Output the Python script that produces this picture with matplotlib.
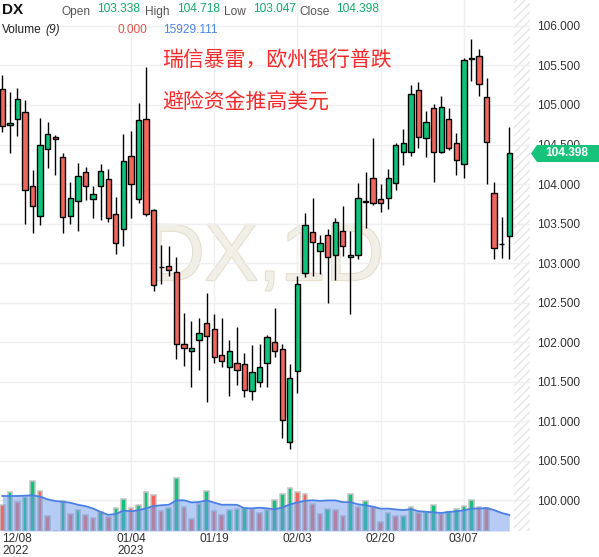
import numpy as np
import pandas as pd
import matplotlib.pyplot as plt
from matplotlib.patches import Polygon
import matplotlib.patheffects as pe

plt.rcParams['font.family'] = ['Liberation Sans', 'DejaVu Sans']

# OHLC diario do DX (12/08/2022 - 15/03/2023)
opens = [105.20, 104.75, 104.82, 104.91, 103.97, 103.59, 104.44, 104.60, 104.34, 103.60,
         103.78, 104.15, 103.81, 103.98, 104.06, 103.62, 103.43, 104.35, 103.81, 104.82,
         103.67, 102.95, 102.96, 102.88, 101.97, 101.88, 102.02, 102.24, 102.17, 101.83,
         101.69, 101.74, 101.72, 101.38, 101.50, 101.73, 102.00, 101.91, 100.73, 101.63,
         102.87, 103.39, 103.15, 103.36, 103.10, 103.41, 103.07, 103.10, 103.79, 104.07,
         103.81, 103.82, 104.01, 104.40, 104.41, 105.19, 104.58, 104.96, 104.41, 104.82,
         104.52, 104.25, 105.58, 105.62, 105.10, 103.89, 103.24, 103.338]
highs = [105.38, 105.17, 105.21, 105.06, 104.18, 104.83, 104.79, 104.62, 104.39, 104.03,
         104.27, 104.21, 103.97, 104.25, 104.19, 103.84, 104.63, 104.67, 105.03, 105.48,
         103.68, 103.23, 103.21, 103.07, 102.37, 102.27, 102.30, 102.62, 102.35, 102.30,
         102.02, 102.19, 101.86, 101.96, 101.97, 102.09, 102.43, 101.98, 101.72, 102.83,
         103.63, 103.82, 103.36, 103.43, 103.57, 103.72, 103.41, 104.01, 104.15, 104.58,
         104.00, 104.19, 104.52, 104.70, 105.25, 105.29, 104.92, 105.01, 105.12, 104.96,
         104.64, 105.60, 105.84, 105.71, 105.34, 104.02, 103.58, 104.718]
lows = [104.66, 104.39, 104.61, 103.50, 103.38, 103.48, 104.20, 104.12, 103.38, 103.49,
        103.41, 103.80, 103.57, 103.54, 103.52, 103.12, 103.22, 103.57, 103.76, 103.59,
        102.65, 102.74, 102.84, 101.79, 101.70, 101.43, 101.65, 101.24, 101.74, 101.68,
        101.32, 101.46, 101.31, 101.27, 101.43, 101.43, 101.81, 100.78, 100.65, 101.36,
        102.82, 102.84, 102.86, 102.50, 102.78, 103.09, 102.36, 103.05, 103.44, 103.74,
        103.65, 103.68, 103.92, 104.24, 104.35, 104.46, 104.34, 104.02, 104.39, 104.43,
        104.11, 104.07, 105.31, 105.11, 104.00, 103.05, 103.06, 103.047]
closes = [104.73, 104.77, 105.07, 103.92, 103.72, 104.50, 104.63, 104.57, 103.58, 103.82,
          104.10, 103.98, 103.87, 104.16, 103.57, 103.25, 104.29, 104.00, 104.81, 103.62,
          102.72, 102.95, 102.91, 101.97, 101.92, 101.92, 102.12, 102.08, 101.81, 101.76,
          101.89, 101.65, 101.39, 101.62, 101.69, 102.06, 101.89, 101.01, 101.55, 102.73,
          103.48, 103.27, 103.25, 103.08, 103.52, 103.22, 103.10, 103.82, 103.77, 103.76,
          103.76, 104.08, 104.50, 104.52, 105.14, 104.60, 104.79, 104.40, 104.97, 104.46,
          104.30, 105.57, 105.60, 105.27, 104.53, 103.19, 103.24, 104.398]

# Volume e cor de cada barra de volume (G = alta, R = baixa)
volume = [26070, 38610, 28710, 33660, 49500, 39600, 14850, 300, 29370, 17160,
          20790, 15840, 12870, 18810, 13860, 22440, 31350, 22770, 25740, 38610,
          35640, 20130, 23100, 52470, 23760, 12210, 26400, 39600, 19800, 16170,
          20790, 21780, 22770, 22110, 18150, 20460, 31020, 36630, 42570, 38940,
          36630, 26730, 17160, 22110, 21120, 15180, 36630, 23760, 30030, 23760,
          8910, 17820, 14850, 15180, 23760, 18150, 18480, 25740, 17160, 18810,
          22110, 24750, 31020, 23902, 22770, 0, 0, 0]
vol_dir = "RGRGGRRRGR" "GRRGRGGRGG" "RRGGRRGGRR" "GGGRRGGGGR" "RRRGRRGRGR" "RGRGGRGGRG" "GGGRRRRR"
# MA(9) no inicio do grafico (janela incompleta)
ma_head = [34650, 34650, 34650, 34980, 35310, 33990, 31350, 29700]

tick_idx = [0, 17, 28, 39, 50, 61]
tick_labels = ['12/08\n2022', '01/04\n2023', '01/19', '02/03', '02/20', '03/07']
price_ticks = np.arange(100.0, 106.01, 0.5)

green = '#10c27a'
red = '#f1675c'
W, H = 599, 557


def px(x, y):
    return x / W, 1 - y / H


fig = plt.figure(figsize=(W / 100, H / 100), dpi=100)
rect = [0, (H - 531) / H, 530 / W, 531 / H]
ax = fig.add_axes(rect)
ax.set_xlim(-0.304, 69.74)
ax.set_ylim(99.608, 106.329)
for s in ax.spines.values():
    s.set_visible(False)

# grade
for p in price_ticks:
    ax.axhline(p, color='#efefef', lw=1, zorder=0.5)
for t in tick_idx[1:]:
    ax.axvline(t, color='#efefef', lw=1, zorder=0.5)

# marca d'agua
ax.text(0.5, 0.512, 'DX,1D', transform=ax.transAxes, ha='center', va='center',
        fontsize=58, color='#f2efe7', zorder=0.2,
        path_effects=[pe.withStroke(linewidth=1.5, foreground='#e3ddcc')])

# area hachurada a direita
ax.axvspan(67.63, 69.74, hatch='////', fill=False, edgecolor='#e6e6e6', lw=0, zorder=0.3)

idx = np.arange(len(opens))
o = np.array(opens)
c = np.array(closes)
cols = [green if cc >= oo else red for oo, cc in zip(o, c)]
ax.vlines(idx, lows, highs, color='black', lw=1.0, zorder=2)
ax.bar(idx, c - o, bottom=o, width=0.7, color=cols, edgecolor='black', linewidth=1.0, zorder=3)

ax.yaxis.tick_right()
ax.set_yticks(price_ticks)
ax.set_yticklabels(['%.3f' % p for p in price_ticks])
ax.tick_params(axis='y', length=0, pad=5, labelsize=8.6, labelcolor='#333333')
ax.set_xticks(tick_idx)
ax.set_xticklabels(tick_labels)
ax.tick_params(axis='x', length=0, pad=1.5, labelsize=8.6, labelcolor='#333333')
ax.get_xticklabels()[0].set_horizontalalignment('left')
for lbl in ax.get_xticklabels():
    lbl.set_linespacing(1.0)

# volume
axv = fig.add_axes(rect, sharex=ax)
axv.patch.set_visible(False)
axv.axis('off')
axv.set_ylim(0, 531 * 990)
vol = np.array(volume, dtype=float)
vcols = [green if d == 'G' else red for d in vol_dir]
mask = vol > 0
axv.bar(idx[mask], vol[mask], width=0.6, color=np.array(vcols)[mask],
        edgecolor='#c4c4c4', linewidth=1.1, zorder=2)
ma = pd.Series(vol).rolling(9).mean().to_numpy()
ma[:8] = ma_head
axv.fill_between(idx, 0, ma, color='#6f9beb', alpha=0.5, lw=0, zorder=3)
axv.plot(idx, ma, color='#4a80e6', lw=1.3, zorder=4)

# cabecalho
fig.text(*px(2, 10), 'DX', fontsize=11, fontweight='bold', va='center', color='#111111')
head = [('Open', 62, '103.338', 97), ('High', 145, '104.718', 177),
        ('Low', 224, '103.047', 253), ('Close', 299, '104.398', 336)]
for name, xn, val, xv in head:
    fig.text(*px(xn, 12), name, fontsize=8.6, va='center', color='#555555')
    fig.text(*px(xv, 9), val, fontsize=8.6, va='center', color='#15a86b')
fig.text(*px(2, 30), 'Volume', fontsize=8.6, va='center', color='#222222')
fig.text(*px(45, 30), '(9)', fontsize=8.6, va='center', color='#222222', style='italic')
fig.text(*px(117, 30), '0.000', fontsize=8.6, va='center', color='#e05353')
fig.text(*px(163, 30), '15929.111', fontsize=8.6, va='center', color='#4a86e8')

# titulo em chines
cjk = ['Noto Sans CJK SC', 'DejaVu Sans']
fig.text(*px(162, 60), '瑞信暴雷，欧州银行普跌', fontsize=15, va='center', color='#f52a2a', family=cjk)
fig.text(*px(162, 103), '避险资金推高美元', fontsize=15, va='center', color='#f52a2a', family=cjk)

# etiqueta do preco atual
tag = Polygon([px(531, 153.5), px(537, 145), px(599, 145), px(599, 162), px(537, 162)],
              closed=True, transform=fig.transFigure, facecolor='#17c27b', edgecolor='none', zorder=10)
fig.patches.append(tag)
fig.text(*px(567, 153.5), '104.398', fontsize=8.6, fontweight='bold', ha='center', va='center',
         color='white', zorder=11)

plt.savefig('out.png', dpi=100)
